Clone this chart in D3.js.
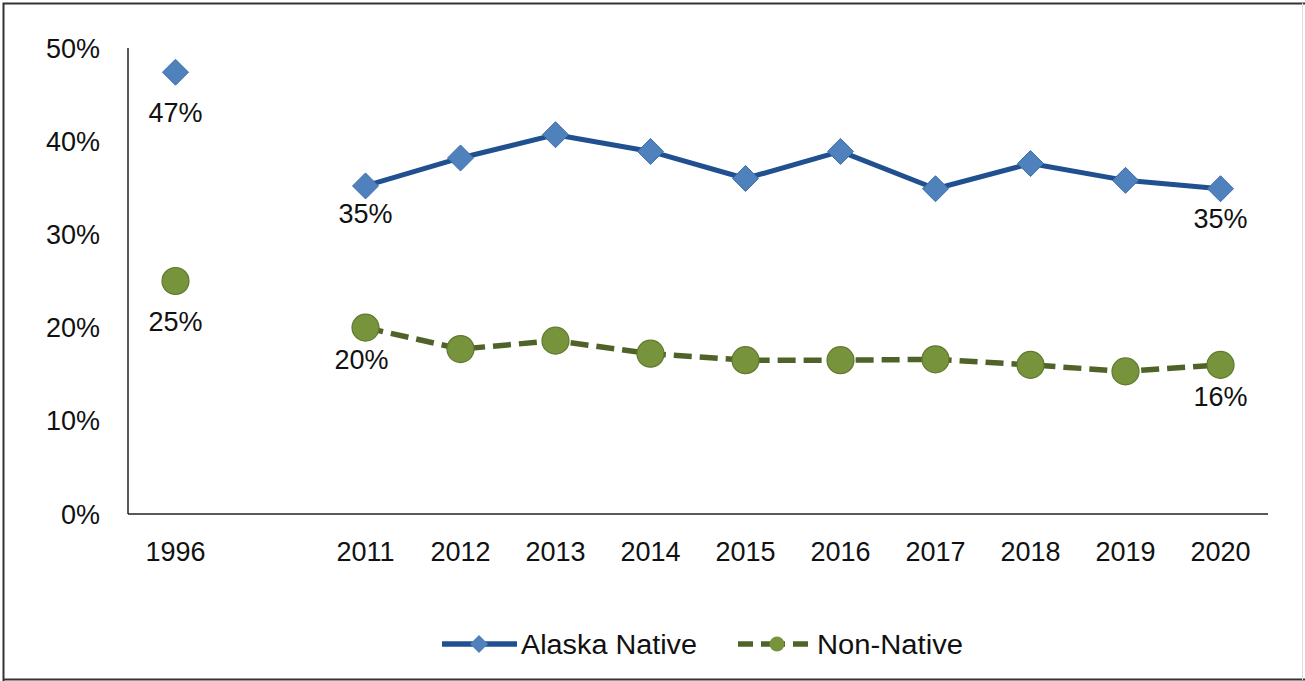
<!DOCTYPE html>
<html><head><meta charset="utf-8">
<script src="https://cdn.jsdelivr.net/npm/d3@7"></script>
<style>body{margin:0;background:#fff}svg{display:block;font-family:"Liberation Sans",Arial,sans-serif}</style>
</head><body><svg id="c" width="1305" height="681"></svg>
<script>
const categories = ["1996","","2011","2012","2013","2014","2015","2016","2017","2018","2019","2020"];
const alaskaNative = [47.4,null,35.2,38.2,40.7,38.9,36.0,38.9,34.9,37.6,35.8,34.9];
const nonNative = [25.0,null,20.0,17.7,18.6,17.2,16.5,16.5,16.6,16.0,15.3,16.0];
const yTicks = [0,10,20,30,40,50];
const alaskaLabels = [[0,"47%"],[2,"35%"],[11,"35%"]];
const nonLabels = [[0,"25%"],[2,"20%"],[11,"16%"]];

const FS = 27;
const svg = d3.select("#c");
// frame (top, left, bottom)
svg.append("path").attr("d","M3.5,681V3.5H1305M3.5,679.5H1305").attr("fill","none")
  .attr("stroke","#333").attr("stroke-width",2);
svg.append("line").attr("x1",1302.5).attr("x2",1302.5).attr("y1",3).attr("y2",680).attr("stroke","#ddd").attr("stroke-width",1);

const x = d3.scaleBand().domain(categories.map((c,i)=>i)).range([128,1268]);
const y = d3.scaleLinear().domain([0,50]).range([514,48]);
const cx = i => x(i)+x.bandwidth()/2;

// axes
svg.append("line").attr("x1",128).attr("x2",128).attr("y1",y(50)).attr("y2",y(0)).attr("stroke","#222").attr("stroke-width",1.5);
svg.append("line").attr("x1",128).attr("x2",1268).attr("y1",y(0)).attr("y2",y(0)).attr("stroke","#222").attr("stroke-width",1.5);
svg.selectAll(".yt").data(yTicks).join("text").attr("x",100).attr("y",d=>y(d)+9.5)
  .attr("text-anchor","end").attr("font-size",FS).attr("fill","#111").text(d=>d+"%");
svg.selectAll(".xt").data(categories).join("text").attr("x",(d,i)=>cx(i)).attr("y",561)
  .attr("text-anchor","middle").attr("font-size",FS).attr("fill","#111").text(d=>d);

const blueLine="#20508F", blueFill="#4F81BD", greenLine="#4F6228", greenFill="#77933C";
const idxA = alaskaNative.map((v,i)=>i).filter(i=>i>=2);
const line = d3.line().x(d=>cx(d[0])).y(d=>y(d[1]));
svg.append("path").attr("d",line(idxA.map(i=>[i,alaskaNative[i]]))).attr("fill","none")
  .attr("stroke",blueLine).attr("stroke-width",5).attr("stroke-linejoin","round");
svg.append("path").attr("d",line(idxA.map(i=>[i,nonNative[i]]))).attr("fill","none")
  .attr("stroke",greenLine).attr("stroke-width",5.5).attr("stroke-dasharray","18,8");

const diamond = s => `M0,${-s}L${s},0L0,${s}L${-s},0Z`;
alaskaNative.forEach((v,i)=>{ if(v==null) return;
  svg.append("path").attr("d",diamond(13)).attr("transform",`translate(${cx(i)},${y(v)})`)
    .attr("fill",blueFill).attr("stroke","#3D6FAD").attr("stroke-width",1);
});
nonNative.forEach((v,i)=>{ if(v==null) return;
  svg.append("circle").attr("cx",cx(i)).attr("cy",y(v)).attr("r",13.5)
    .attr("fill",greenFill).attr("stroke","#5E7A2E").attr("stroke-width",1.2);
});
const aOff = {0:[0,50],2:[0,37],11:[0,39]};
const nOff = {0:[0,50],2:[-4,41],11:[0,41]};
alaskaLabels.forEach(([i,t])=>{
  svg.append("text").attr("x",cx(i)+aOff[i][0]).attr("y",y(alaskaNative[i])+aOff[i][1]).attr("text-anchor","middle")
    .attr("font-size",FS).attr("fill","#111").text(t);
});
nonLabels.forEach(([i,t])=>{
  svg.append("text").attr("x",cx(i)+nOff[i][0]).attr("y",y(nonNative[i])+nOff[i][1]).attr("text-anchor","middle")
    .attr("font-size",FS).attr("fill","#111").text(t);
});

// legend
const ly=644;
svg.append("line").attr("x1",442).attr("x2",517).attr("y1",ly).attr("y2",ly).attr("stroke",blueLine).attr("stroke-width",5.5);
svg.append("path").attr("d",diamond(9)).attr("transform",`translate(479,${ly})`).attr("fill",blueFill);
svg.append("text").attr("x",521).attr("y",ly+9.5).attr("font-size",FS).attr("fill","#111")
  .attr("textLength",176).attr("lengthAdjust","spacingAndGlyphs").text("Alaska Native");
svg.append("line").attr("x1",738).attr("x2",808).attr("y1",ly).attr("y2",ly).attr("stroke",greenLine).attr("stroke-width",5.5).attr("stroke-dasharray","15,8,24,8,15");
svg.append("circle").attr("cx",777).attr("cy",ly).attr("r",7.5).attr("fill",greenFill);
svg.append("text").attr("x",817).attr("y",ly+9.5).attr("font-size",FS).attr("fill","#111")
  .attr("textLength",146).attr("lengthAdjust","spacingAndGlyphs").text("Non-Native");
</script></body></html>
